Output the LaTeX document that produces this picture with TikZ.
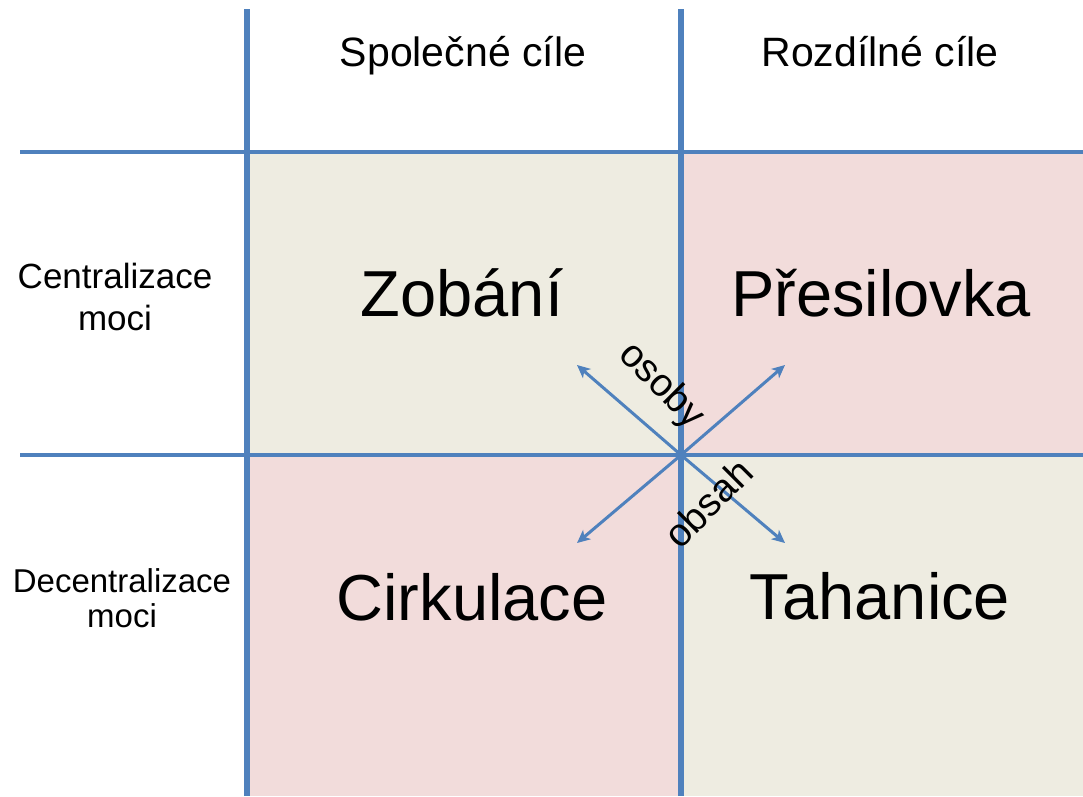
\documentclass[tikz,border=0pt]{standalone}
\usepackage{fontspec}
\setmainfont{Liberation Sans}
\usetikzlibrary{arrows.meta}
\definecolor{gridblue}{HTML}{4F81BD}
\definecolor{qbeige}{HTML}{EEECE1}
\definecolor{qpink}{HTML}{F2DCDB}
\tikzset{
  vline/.style={draw=gridblue, line width=5.5pt},
  hline/.style={draw=gridblue, line width=4pt},
  headtxt/.style={anchor=base, inner sep=0pt, font=\fontsize{41}{49}\selectfont},
  bigtxt/.style={anchor=base, inner sep=0pt, font=\fontsize{65}{78}\selectfont},
  sidetxt/.style={anchor=base, inner sep=0pt, align=center},
  diagtxt/.style={inner sep=0pt, font=\fontsize{39}{45}\selectfont},
  arr/.style={draw=gridblue, line width=3pt, -{Stealth[length=13pt,width=12pt,inset=3.5pt]}}
}
\begin{document}
\begin{tikzpicture}[x=1pt,y=-1pt]
\useasboundingbox (0,0) rectangle (1083,796);
% quadrant fills
\fill[qbeige] (246,152) rectangle (681,455);
\fill[qpink] (681,152) rectangle (1083,455);
\fill[qpink] (246,455) rectangle (681,796);
\fill[qbeige] (681,455) rectangle (1083,796);
% grid lines
\draw[hline] (20,152) -- (1083,152);
\draw[hline] (20,455) -- (1083,455);
\draw[vline] (247,9) -- (247,796);
\draw[vline] (681,9) -- (681,796);
% headings
\node[headtxt] (h1) at (463,66) {Společné cíle};
\node[headtxt] (h2) at (880,66) {Rozdílné cíle};
% side labels (base anchor = last line)
\node[sidetxt, font=\fontsize{35}{42}\selectfont] (s1) at (115,330) {Centralizace\\moci};
\node[sidetxt, font=\fontsize{33}{35}\selectfont] (s2) at (122,627) {Decentralizace\\moci};
% quadrant texts
\node[bigtxt] (q1) at (462,316) {Zobání};
\node[bigtxt] (q2) at (881,316) {Přesilovka};
\node[bigtxt] (q3) at (472,620) {Cirkulace};
\node[bigtxt] (q4) at (880,619) {Tahanice};
% arrows
\coordinate (c) at (681,455);
\coordinate (ul) at (577,365);
\coordinate (ur) at (785,365);
\coordinate (ll) at (577,543);
\coordinate (lr) at (785,543);
\draw[arr] (c) -- (ul);
\draw[arr] (c) -- (ur);
\draw[arr] (c) -- (ll);
\draw[arr] (c) -- (lr);
\node[diagtxt, rotate=-45] (os) at (661,386) {osoby};
\node[diagtxt, rotate=45] (ob) at (708,503) {obsah};
\end{tikzpicture}
\end{document}
